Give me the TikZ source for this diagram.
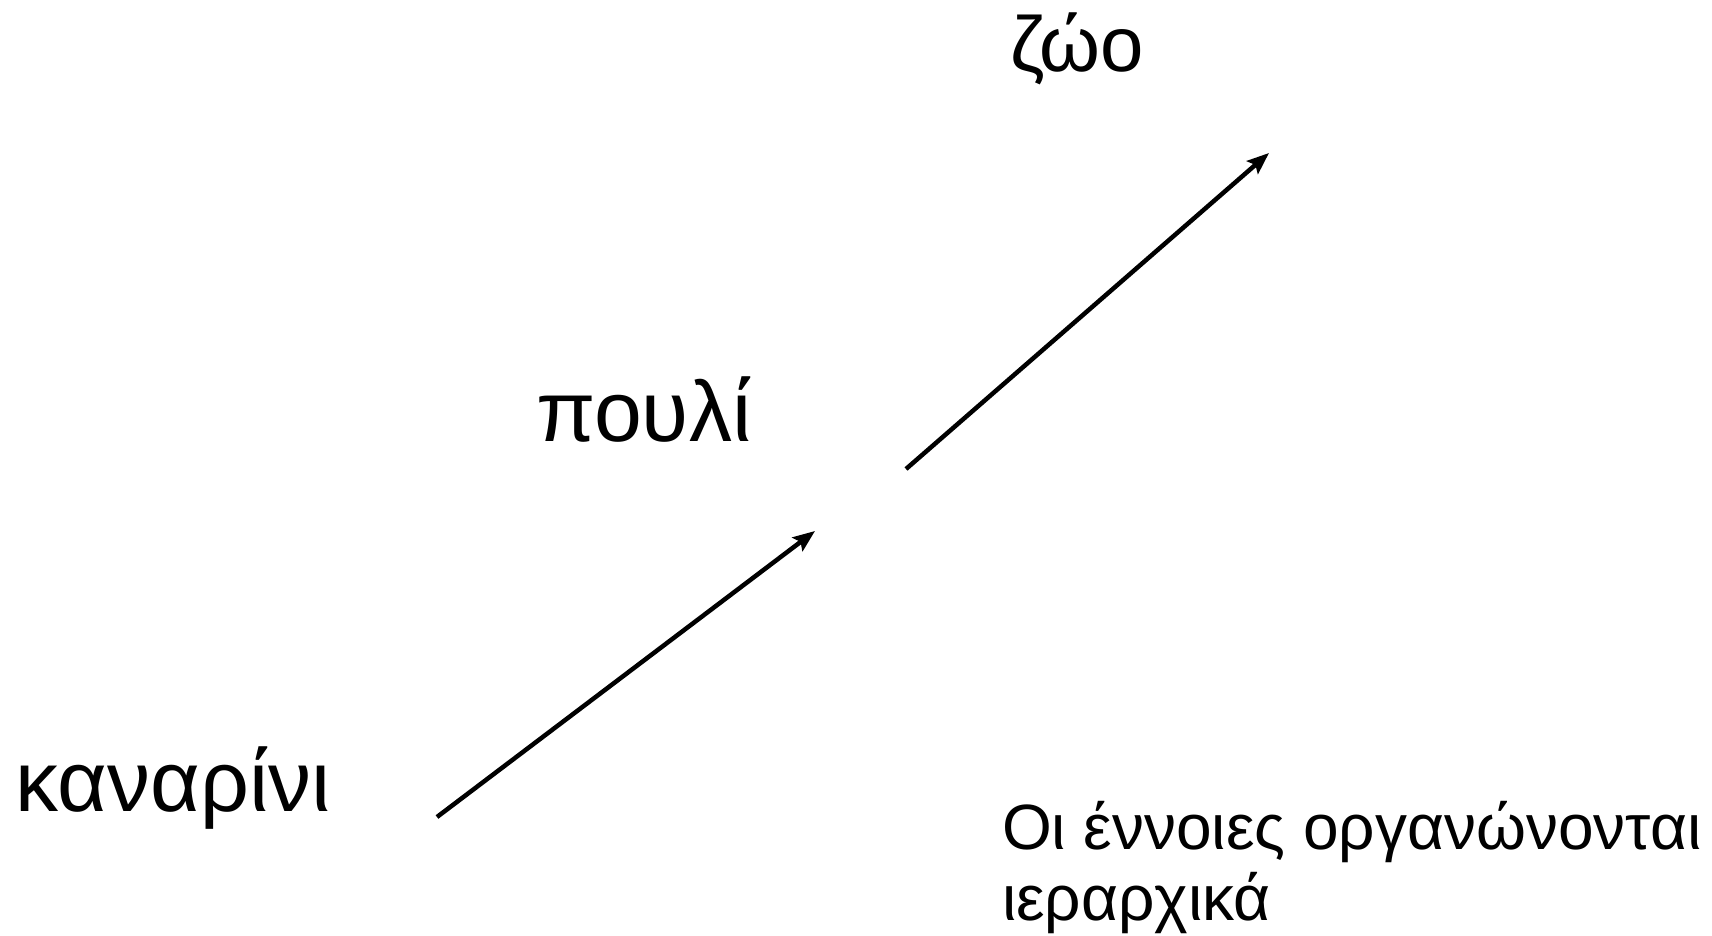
\documentclass[tikz,border=0pt]{standalone}
\usepackage{fontspec}
\setmainfont{Liberation Sans}
\usetikzlibrary{arrows.meta}
\begin{document}
\begin{tikzpicture}[x=1pt,y=-1pt,
  lbl/.style={anchor=base west,inner sep=0pt,outer sep=0pt,text=black},
  arr/.style={line width=4.5pt,-{Stealth[length=22pt,width=17pt,inset=4pt]}}]
\useasboundingbox (0,0) rectangle (1712,936);
\node[lbl,font=\fontsize{78}{94}\selectfont] (zoo) at (1010,72) {ζώο};
\node[lbl,font=\fontsize{86}{103}\selectfont] (pouli) at (536,441) {πουλί};
\node[lbl,font=\fontsize{86}{103}\selectfont] (kanarini) at (16,811) {καναρίνι};
\node[lbl,font=\fontsize{64}{71}\selectfont] (note1) at (1002,849) {Οι έννοιες οργανώνονται};
\node[lbl,font=\fontsize{64}{71}\selectfont] (note2) at (1002,920) {ιεραρχικά};
\coordinate (a1s) at (437,817);
\coordinate (a1e) at (815,531);
\coordinate (a2s) at (906,469);
\coordinate (a2e) at (1269,153);
\draw[arr] (a1s) -- (a1e);
\draw[arr] (a2s) -- (a2e);
\end{tikzpicture}
\end{document}
